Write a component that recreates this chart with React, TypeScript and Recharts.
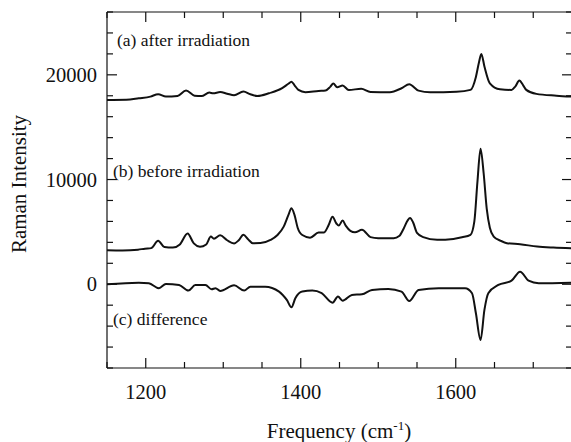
import { LineChart, Line, XAxis, YAxis, ReferenceLine } from "recharts";

// spectrum (a) after irradiation
const afterFreq = [1150, 1175, 1191, 1206, 1216, 1226, 1241, 1252, 1263, 1272, 1282, 1287, 1296, 1305, 1314, 1326, 1335, 1344, 1359, 1376, 1384, 1388, 1392, 1397, 1406, 1423, 1432, 1438, 1442, 1447, 1454, 1462, 1478, 1490, 1515, 1530, 1540, 1552, 1567, 1601, 1619, 1626, 1630, 1633, 1637, 1644, 1657, 1672, 1677, 1682, 1687, 1691, 1704, 1730, 1750];
const afterIntensity = [17600, 17620, 17760, 17920, 18150, 17920, 17980, 18500, 18010, 17980, 18300, 18230, 18360, 18200, 18050, 18400, 18150, 17980, 18240, 18720, 19150, 19350, 19000, 18560, 18340, 18460, 18500, 18850, 19180, 18810, 18980, 18560, 18660, 18360, 18340, 18720, 19100, 18490, 18340, 18390, 18560, 19800, 21200, 22000, 20800, 19190, 18620, 18560, 18900, 19450, 19000, 18560, 18180, 18010, 17920];

// spectrum (b) before irradiation
const beforeFreq = [1150, 1170, 1190, 1199, 1207, 1216, 1224, 1235, 1244, 1254, 1262, 1270, 1278, 1284, 1288, 1296, 1305, 1314, 1320, 1326, 1332, 1338, 1348, 1361, 1370, 1378, 1384, 1388, 1392, 1396, 1402, 1412, 1423, 1430, 1436, 1441, 1446, 1449, 1454, 1458, 1464, 1470, 1479, 1490, 1500, 1520, 1527, 1533, 1538, 1541, 1545, 1550, 1558, 1576, 1597, 1608, 1619, 1624, 1628, 1632, 1636, 1640, 1644, 1649, 1658, 1666, 1683, 1705, 1726, 1750];
const beforeIntensity = [3250, 3230, 3300, 3400, 3450, 4150, 3550, 3500, 3800, 4850, 3900, 3580, 3800, 4550, 4350, 4680, 4200, 3900, 4200, 4720, 4300, 3920, 3930, 4230, 4700, 5500, 6600, 7250, 6600, 5400, 4700, 4450, 4930, 4950, 5650, 6450, 5800, 5600, 6080, 5600, 5100, 4960, 5200, 4500, 4400, 4390, 4600, 5350, 6100, 6330, 5900, 4900, 4500, 4240, 4330, 4490, 4720, 6000, 9800, 12950, 10600, 7200, 5400, 4550, 4150, 3920, 3820, 3600, 3500, 3430];

// spectrum (c) difference
const diffFreq = [1150, 1191, 1204, 1217, 1226, 1243, 1255, 1264, 1277, 1285, 1290, 1296, 1314, 1327, 1335, 1354, 1372, 1382, 1388, 1393, 1402, 1415, 1427, 1441, 1448, 1454, 1466, 1479, 1492, 1513, 1530, 1540, 1552, 1578, 1612, 1621, 1626, 1632, 1637, 1642, 1655, 1672, 1683, 1694, 1707, 1750];
const diffIntensity = [0, 150, 100, -380, 30, -70, -610, -70, -70, -480, -380, -640, -100, -610, -230, -230, -700, -1500, -2200, -1340, -700, -610, -860, -1760, -1180, -1570, -1020, -960, -540, -450, -700, -1590, -540, -380, -380, -860, -2770, -5320, -2450, -860, -70, 340, 1200, 340, 100, 150];

const xTicks = [1150, 1200, 1250, 1300, 1350, 1400, 1450, 1500, 1550, 1600, 1650, 1700, 1750];
const xLabels = [1200, 1400, 1600];
const yTicks = [-8000, -6000, -4000, -2000, 0, 2000, 4000, 6000, 8000, 10000, 12000, 14000, 16000, 18000, 20000, 22000, 24000, 26000];
const yLabels = [0, 10000, 20000];

const toPoints = (xs: number[], ys: number[]) => xs.map((x, i) => ({ x, y: ys[i] }));
const afterData = toPoints(afterFreq, afterIntensity);
const beforeData = toPoints(beforeFreq, beforeIntensity);
const diffData = toPoints(diffFreq, diffIntensity);

const W = 574;
const H = 442;
const LEFT = 107;
const RIGHT = 572;
const TOP = 12;
const BOTTOM = 368;
const FONT = "'Liberation Serif', 'DejaVu Serif', serif";
const INK = "#111";

const YTick = ({ x, y, payload }: any) => {
  const v = payload.value;
  const major = yLabels.includes(v);
  const len = major ? 10 : 6;
  return (
    <g>
      <line x1={LEFT} x2={LEFT + len} y1={y} y2={y} stroke={INK} strokeWidth={1.2} />
      <line x1={RIGHT - len} x2={RIGHT} y1={y} y2={y} stroke={INK} strokeWidth={1.2} />
      {major && (
        <text x={x} y={y} dy="0.35em" textAnchor="end" fontFamily={FONT} fontSize={20.5} fill={INK}>
          {v}
        </text>
      )}
    </g>
  );
};

const XTick = ({ x, y, payload }: any) => {
  const v = payload.value;
  const major = xLabels.includes(v);
  const len = major ? 10 : 6;
  return (
    <g>
      <line x1={x} x2={x} y1={BOTTOM} y2={BOTTOM - len} stroke={INK} strokeWidth={1.2} />
      <line x1={x} x2={x} y1={TOP} y2={TOP + len} stroke={INK} strokeWidth={1.2} />
      {major && (
        <text x={x} y={y} dy="0.71em" textAnchor="middle" fontFamily={FONT} fontSize={20.5} fill={INK}>
          {v}
        </text>
      )}
    </g>
  );
};

const note = (left: number, top: number, size: number) => ({
  position: "absolute" as const,
  left,
  top,
  fontFamily: FONT,
  fontSize: size,
  lineHeight: 1,
  color: INK,
  whiteSpace: "nowrap" as const,
});

export default function App() {
  return (
    <div style={{ position: "fixed", left: 0, top: 0, width: 571, height: 442, overflow: "hidden", background: "#fff" }}>
      <LineChart width={W} height={H} margin={{ top: TOP, right: W - RIGHT, bottom: 0, left: 0 }}>
        <XAxis
          dataKey="x"
          type="number"
          domain={[1150, 1750]}
          ticks={xTicks}
          interval={0}
          allowDataOverflow
          tick={<XTick />}
          tickLine={false}
          tickSize={0}
          tickMargin={16}
          height={H - BOTTOM}
          axisLine={{ stroke: INK, strokeWidth: 1.2 }}
        />
        <YAxis
          type="number"
          domain={[-8000, 26000]}
          ticks={yTicks}
          interval={0}
          allowDataOverflow
          tick={<YTick />}
          tickLine={false}
          tickSize={0}
          tickMargin={10}
          width={LEFT}
          axisLine={{ stroke: INK, strokeWidth: 1.2 }}
        />
        <ReferenceLine y={26000} stroke={INK} strokeWidth={1.2} />
        <ReferenceLine x={1750} stroke={INK} strokeWidth={1.2} />
        <Line data={afterData} dataKey="y" type="monotone" stroke={INK} strokeWidth={2} dot={false} isAnimationActive={false} />
        <Line data={beforeData} dataKey="y" type="monotone" stroke={INK} strokeWidth={2} dot={false} isAnimationActive={false} />
        <Line data={diffData} dataKey="y" type="monotone" stroke={INK} strokeWidth={2} dot={false} isAnimationActive={false} />
      </LineChart>
      <div style={note(117, 32, 17.5)}>(a) after irradiation</div>
      <div style={note(113, 163, 17.5)}>(b) before irradiation</div>
      <div style={note(113, 311, 17.5)}>(c) difference</div>
      <div
        style={{
          ...note(19, 184, 21),
          transform: "translate(-50%, -50%) rotate(-90deg)",
        }}
      >
        Raman Intensity
      </div>
      <div style={{ ...note(339, 431, 21), transform: "translate(-50%, -50%)" }}>
        Frequency (cm<sup style={{ fontSize: 13, lineHeight: 0 }}>-1</sup>)
      </div>
    </div>
  );
}
